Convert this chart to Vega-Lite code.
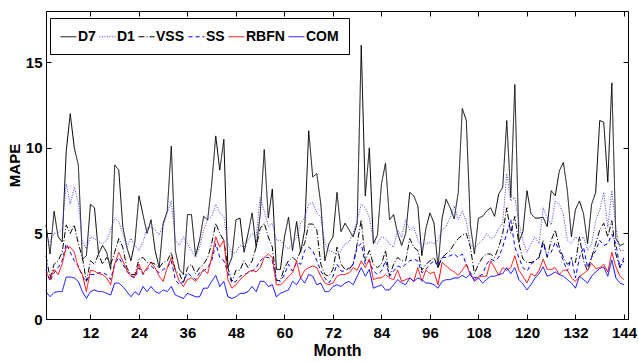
{
"$schema":"https://vega.github.io/schema/vega-lite/v6.json",
"width":582,"height":308,"autosize":"none",
"padding":{"left":46,"top":11,"right":10,"bottom":43},
"background":"white",
"config":{"view":{"stroke":"black","strokeWidth":1},"font":"Liberation Sans"},
"datasets":{"d":[
{"m":1,"s":"D7","v":5.5},{"m":2,"s":"D7","v":3.8},{"m":3,"s":"D7","v":6.3},{"m":4,"s":"D7","v":4.8},{"m":5,"s":"D7","v":4.5},{"m":6,"s":"D7","v":9.8},{"m":7,"s":"D7","v":12.0},{"m":8,"s":"D7","v":10.0},{"m":9,"s":"D7","v":9.0},{"m":10,"s":"D7","v":3.5},{"m":11,"s":"D7","v":3.7},{"m":12,"s":"D7","v":6.7},{"m":13,"s":"D7","v":6.5},{"m":14,"s":"D7","v":3.8},{"m":15,"s":"D7","v":4.3},{"m":16,"s":"D7","v":3.9},{"m":17,"s":"D7","v":2.9},{"m":18,"s":"D7","v":9.0},{"m":19,"s":"D7","v":8.7},{"m":20,"s":"D7","v":5.4},{"m":21,"s":"D7","v":4.2},{"m":22,"s":"D7","v":3.4},{"m":23,"s":"D7","v":4.5},{"m":24,"s":"D7","v":7.2},{"m":25,"s":"D7","v":6.1},{"m":26,"s":"D7","v":5.0},{"m":27,"s":"D7","v":5.8},{"m":28,"s":"D7","v":4.0},{"m":29,"s":"D7","v":3.0},{"m":30,"s":"D7","v":5.6},
{"m":31,"s":"D7","v":6.3},{"m":32,"s":"D7","v":10.1},{"m":33,"s":"D7","v":4.0},{"m":34,"s":"D7","v":2.9},{"m":35,"s":"D7","v":2.6},{"m":36,"s":"D7","v":6.1},{"m":37,"s":"D7","v":6.1},{"m":38,"s":"D7","v":3.7},{"m":39,"s":"D7","v":4.6},{"m":40,"s":"D7","v":6.0},{"m":41,"s":"D7","v":5.8},{"m":42,"s":"D7","v":7.9},{"m":43,"s":"D7","v":10.7},{"m":44,"s":"D7","v":8.7},{"m":45,"s":"D7","v":10.5},{"m":46,"s":"D7","v":3.0},{"m":47,"s":"D7","v":3.6},{"m":48,"s":"D7","v":5.8},{"m":49,"s":"D7","v":5.9},{"m":50,"s":"D7","v":3.9},{"m":51,"s":"D7","v":5.0},{"m":52,"s":"D7","v":6.2},{"m":53,"s":"D7","v":4.2},{"m":54,"s":"D7","v":6.1},{"m":55,"s":"D7","v":9.9},{"m":56,"s":"D7","v":5.9},{"m":57,"s":"D7","v":7.6},{"m":58,"s":"D7","v":2.9},{"m":59,"s":"D7","v":2.9},{"m":60,"s":"D7","v":4.8},
{"m":61,"s":"D7","v":5.95},{"m":62,"s":"D7","v":4.0},{"m":63,"s":"D7","v":5.7},{"m":64,"s":"D7","v":3.9},{"m":65,"s":"D7","v":5.2},{"m":66,"s":"D7","v":11.0},{"m":67,"s":"D7","v":8.3},{"m":68,"s":"D7","v":8.5},{"m":69,"s":"D7","v":6.7},{"m":70,"s":"D7","v":3.4},{"m":71,"s":"D7","v":4.4},{"m":72,"s":"D7","v":4.8},{"m":73,"s":"D7","v":7.4},{"m":74,"s":"D7","v":5.1},{"m":75,"s":"D7","v":5.6},{"m":76,"s":"D7","v":5.2},{"m":77,"s":"D7","v":4.8},{"m":78,"s":"D7","v":5.6},{"m":79,"s":"D7","v":16.0},{"m":80,"s":"D7","v":7.2},{"m":81,"s":"D7","v":10.0},{"m":82,"s":"D7","v":4.4},{"m":83,"s":"D7","v":4.9},{"m":84,"s":"D7","v":7.9},{"m":85,"s":"D7","v":9.1},{"m":86,"s":"D7","v":5.8},{"m":87,"s":"D7","v":6.1},{"m":88,"s":"D7","v":5.0},{"m":89,"s":"D7","v":4.3},{"m":90,"s":"D7","v":5.0},
{"m":91,"s":"D7","v":7.4},{"m":92,"s":"D7","v":7.2},{"m":93,"s":"D7","v":6.6},{"m":94,"s":"D7","v":3.7},{"m":95,"s":"D7","v":5.3},{"m":96,"s":"D7","v":6.2},{"m":97,"s":"D7","v":5.6},{"m":98,"s":"D7","v":3.0},{"m":99,"s":"D7","v":5.9},{"m":100,"s":"D7","v":7.0},{"m":101,"s":"D7","v":6.5},{"m":102,"s":"D7","v":5.85},{"m":103,"s":"D7","v":7.4},{"m":104,"s":"D7","v":12.3},{"m":105,"s":"D7","v":11.6},{"m":106,"s":"D7","v":5.5},{"m":107,"s":"D7","v":3.8},{"m":108,"s":"D7","v":5.9},{"m":109,"s":"D7","v":6.0},{"m":110,"s":"D7","v":6.3},{"m":111,"s":"D7","v":6.5},{"m":112,"s":"D7","v":6.0},{"m":113,"s":"D7","v":7.3},{"m":114,"s":"D7","v":7.7},{"m":115,"s":"D7","v":11.6},{"m":116,"s":"D7","v":7.1},{"m":117,"s":"D7","v":13.7},{"m":118,"s":"D7","v":4.5},{"m":119,"s":"D7","v":5.1},{"m":120,"s":"D7","v":7.5},
{"m":121,"s":"D7","v":6.15},{"m":122,"s":"D7","v":5.9},{"m":123,"s":"D7","v":5.9},{"m":124,"s":"D7","v":5.95},{"m":125,"s":"D7","v":5.4},{"m":126,"s":"D7","v":7.5},{"m":127,"s":"D7","v":7.2},{"m":128,"s":"D7","v":8.65},{"m":129,"s":"D7","v":9.15},{"m":130,"s":"D7","v":7.5},{"m":131,"s":"D7","v":4.8},{"m":132,"s":"D7","v":6.4},{"m":133,"s":"D7","v":6.9},{"m":134,"s":"D7","v":6.15},{"m":135,"s":"D7","v":4.4},{"m":136,"s":"D7","v":6.7},{"m":137,"s":"D7","v":7.4},{"m":138,"s":"D7","v":11.6},{"m":139,"s":"D7","v":11.5},{"m":140,"s":"D7","v":8.0},{"m":141,"s":"D7","v":13.8},{"m":142,"s":"D7","v":4.7},{"m":143,"s":"D7","v":4.3},{"m":144,"s":"D7","v":4.4},
{"m":1,"s":"D1","v":4.7},{"m":2,"s":"D1","v":4.5},{"m":3,"s":"D1","v":5.0},{"m":4,"s":"D1","v":5.0},{"m":5,"s":"D1","v":5.3},{"m":6,"s":"D1","v":7.9},{"m":7,"s":"D1","v":6.7},{"m":8,"s":"D1","v":7.7},{"m":9,"s":"D1","v":6.8},{"m":10,"s":"D1","v":4.5},{"m":11,"s":"D1","v":4.1},{"m":12,"s":"D1","v":4.8},{"m":13,"s":"D1","v":4.7},{"m":14,"s":"D1","v":4.5},{"m":15,"s":"D1","v":4.4},{"m":16,"s":"D1","v":4.6},{"m":17,"s":"D1","v":5.2},{"m":18,"s":"D1","v":5.9},{"m":19,"s":"D1","v":5.7},{"m":20,"s":"D1","v":5.0},{"m":21,"s":"D1","v":4.2},{"m":22,"s":"D1","v":4.7},{"m":23,"s":"D1","v":4.3},{"m":24,"s":"D1","v":4.0},{"m":25,"s":"D1","v":4.5},{"m":26,"s":"D1","v":5.3},{"m":27,"s":"D1","v":5.4},{"m":28,"s":"D1","v":5.2},{"m":29,"s":"D1","v":4.9},{"m":30,"s":"D1","v":5.5},
{"m":31,"s":"D1","v":6.2},{"m":32,"s":"D1","v":6.9},{"m":33,"s":"D1","v":4.6},{"m":34,"s":"D1","v":4.3},{"m":35,"s":"D1","v":4.8},{"m":36,"s":"D1","v":4.4},{"m":37,"s":"D1","v":4.0},{"m":38,"s":"D1","v":3.6},{"m":39,"s":"D1","v":4.2},{"m":40,"s":"D1","v":5.2},{"m":41,"s":"D1","v":5.8},{"m":42,"s":"D1","v":6.0},{"m":43,"s":"D1","v":6.7},{"m":44,"s":"D1","v":6.2},{"m":45,"s":"D1","v":6.0},{"m":46,"s":"D1","v":4.4},{"m":47,"s":"D1","v":3.8},{"m":48,"s":"D1","v":3.9},{"m":49,"s":"D1","v":4.3},{"m":50,"s":"D1","v":4.2},{"m":51,"s":"D1","v":4.6},{"m":52,"s":"D1","v":5.0},{"m":53,"s":"D1","v":4.8},{"m":54,"s":"D1","v":7.1},{"m":55,"s":"D1","v":6.3},{"m":56,"s":"D1","v":5.4},{"m":57,"s":"D1","v":5.6},{"m":58,"s":"D1","v":4.6},{"m":59,"s":"D1","v":4.6},{"m":60,"s":"D1","v":4.3},
{"m":61,"s":"D1","v":4.1},{"m":62,"s":"D1","v":4.4},{"m":63,"s":"D1","v":4.8},{"m":64,"s":"D1","v":5.6},{"m":65,"s":"D1","v":5.95},{"m":66,"s":"D1","v":6.7},{"m":67,"s":"D1","v":6.8},{"m":68,"s":"D1","v":6.2},{"m":69,"s":"D1","v":5.95},{"m":70,"s":"D1","v":4.4},{"m":71,"s":"D1","v":4.0},{"m":72,"s":"D1","v":3.9},{"m":73,"s":"D1","v":3.8},{"m":74,"s":"D1","v":4.0},{"m":75,"s":"D1","v":4.4},{"m":76,"s":"D1","v":4.5},{"m":77,"s":"D1","v":5.0},{"m":78,"s":"D1","v":5.8},{"m":79,"s":"D1","v":6.7},{"m":80,"s":"D1","v":6.5},{"m":81,"s":"D1","v":5.95},{"m":82,"s":"D1","v":4.6},{"m":83,"s":"D1","v":4.4},{"m":84,"s":"D1","v":4.8},{"m":85,"s":"D1","v":4.7},{"m":86,"s":"D1","v":4.4},{"m":87,"s":"D1","v":4.2},{"m":88,"s":"D1","v":5.2},{"m":89,"s":"D1","v":4.8},{"m":90,"s":"D1","v":5.8},
{"m":91,"s":"D1","v":5.2},{"m":92,"s":"D1","v":5.4},{"m":93,"s":"D1","v":4.6},{"m":94,"s":"D1","v":4.2},{"m":95,"s":"D1","v":4.4},{"m":96,"s":"D1","v":4.5},{"m":97,"s":"D1","v":4.4},{"m":98,"s":"D1","v":4.6},{"m":99,"s":"D1","v":5.2},{"m":100,"s":"D1","v":5.4},{"m":101,"s":"D1","v":5.95},{"m":102,"s":"D1","v":6.6},{"m":103,"s":"D1","v":5.8},{"m":104,"s":"D1","v":6.3},{"m":105,"s":"D1","v":5.7},{"m":106,"s":"D1","v":4.4},{"m":107,"s":"D1","v":4.1},{"m":108,"s":"D1","v":4.4},{"m":109,"s":"D1","v":4.6},{"m":110,"s":"D1","v":5.0},{"m":111,"s":"D1","v":4.7},{"m":112,"s":"D1","v":4.8},{"m":113,"s":"D1","v":5.3},{"m":114,"s":"D1","v":5.6},{"m":115,"s":"D1","v":8.5},{"m":116,"s":"D1","v":6.9},{"m":117,"s":"D1","v":7.1},{"m":118,"s":"D1","v":5.65},{"m":119,"s":"D1","v":4.6},{"m":120,"s":"D1","v":3.9},
{"m":121,"s":"D1","v":4.4},{"m":122,"s":"D1","v":4.8},{"m":123,"s":"D1","v":4.4},{"m":124,"s":"D1","v":6.5},{"m":125,"s":"D1","v":5.9},{"m":126,"s":"D1","v":5.5},{"m":127,"s":"D1","v":6.9},{"m":128,"s":"D1","v":6.7},{"m":129,"s":"D1","v":6.15},{"m":130,"s":"D1","v":4.6},{"m":131,"s":"D1","v":4.4},{"m":132,"s":"D1","v":4.8},{"m":133,"s":"D1","v":4.6},{"m":134,"s":"D1","v":4.8},{"m":135,"s":"D1","v":4.0},{"m":136,"s":"D1","v":4.4},{"m":137,"s":"D1","v":5.75},{"m":138,"s":"D1","v":6.35},{"m":139,"s":"D1","v":7.4},{"m":140,"s":"D1","v":5.35},{"m":141,"s":"D1","v":7.5},{"m":142,"s":"D1","v":5.35},{"m":143,"s":"D1","v":4.0},{"m":144,"s":"D1","v":4.0},
{"m":1,"s":"VSS","v":3.7},{"m":2,"s":"VSS","v":2.4},{"m":3,"s":"VSS","v":3.2},{"m":4,"s":"VSS","v":3.4},{"m":5,"s":"VSS","v":3.9},{"m":6,"s":"VSS","v":5.5},{"m":7,"s":"VSS","v":5.0},{"m":8,"s":"VSS","v":5.5},{"m":9,"s":"VSS","v":4.4},{"m":10,"s":"VSS","v":3.6},{"m":11,"s":"VSS","v":2.2},{"m":12,"s":"VSS","v":3.4},{"m":13,"s":"VSS","v":3.2},{"m":14,"s":"VSS","v":3.8},{"m":15,"s":"VSS","v":3.2},{"m":16,"s":"VSS","v":3.6},{"m":17,"s":"VSS","v":3.2},{"m":18,"s":"VSS","v":3.9},{"m":19,"s":"VSS","v":4.7},{"m":20,"s":"VSS","v":4.2},{"m":21,"s":"VSS","v":3.0},{"m":22,"s":"VSS","v":2.6},{"m":23,"s":"VSS","v":2.6},{"m":24,"s":"VSS","v":3.5},{"m":25,"s":"VSS","v":3.6},{"m":26,"s":"VSS","v":3.3},{"m":27,"s":"VSS","v":3.3},{"m":28,"s":"VSS","v":3.2},{"m":29,"s":"VSS","v":3.0},{"m":30,"s":"VSS","v":3.3},
{"m":31,"s":"VSS","v":3.4},{"m":32,"s":"VSS","v":3.9},{"m":33,"s":"VSS","v":2.85},{"m":34,"s":"VSS","v":2.65},{"m":35,"s":"VSS","v":2.1},{"m":36,"s":"VSS","v":3.0},{"m":37,"s":"VSS","v":3.2},{"m":38,"s":"VSS","v":2.65},{"m":39,"s":"VSS","v":3.0},{"m":40,"s":"VSS","v":3.2},{"m":41,"s":"VSS","v":3.6},{"m":42,"s":"VSS","v":4.4},{"m":43,"s":"VSS","v":5.6},{"m":44,"s":"VSS","v":5.0},{"m":45,"s":"VSS","v":4.6},{"m":46,"s":"VSS","v":3.0},{"m":47,"s":"VSS","v":2.2},{"m":48,"s":"VSS","v":2.85},{"m":49,"s":"VSS","v":2.85},{"m":50,"s":"VSS","v":3.4},{"m":51,"s":"VSS","v":3.0},{"m":52,"s":"VSS","v":3.4},{"m":53,"s":"VSS","v":4.2},{"m":54,"s":"VSS","v":5.3},{"m":55,"s":"VSS","v":5.6},{"m":56,"s":"VSS","v":4.8},{"m":57,"s":"VSS","v":4.2},{"m":58,"s":"VSS","v":2.25},{"m":59,"s":"VSS","v":2.25},{"m":60,"s":"VSS","v":3.0},
{"m":61,"s":"VSS","v":3.4},{"m":62,"s":"VSS","v":3.6},{"m":63,"s":"VSS","v":3.4},{"m":64,"s":"VSS","v":4.0},{"m":65,"s":"VSS","v":4.4},{"m":66,"s":"VSS","v":5.55},{"m":67,"s":"VSS","v":5.55},{"m":68,"s":"VSS","v":5.2},{"m":69,"s":"VSS","v":3.2},{"m":70,"s":"VSS","v":2.6},{"m":71,"s":"VSS","v":2.5},{"m":72,"s":"VSS","v":2.9},{"m":73,"s":"VSS","v":4.2},{"m":74,"s":"VSS","v":3.2},{"m":75,"s":"VSS","v":2.9},{"m":76,"s":"VSS","v":2.9},{"m":77,"s":"VSS","v":3.2},{"m":78,"s":"VSS","v":4.4},{"m":79,"s":"VSS","v":5.8},{"m":80,"s":"VSS","v":3.4},{"m":81,"s":"VSS","v":4.0},{"m":82,"s":"VSS","v":3.2},{"m":83,"s":"VSS","v":3.0},{"m":84,"s":"VSS","v":3.2},{"m":85,"s":"VSS","v":4.0},{"m":86,"s":"VSS","v":2.5},{"m":87,"s":"VSS","v":3.2},{"m":88,"s":"VSS","v":3.6},{"m":89,"s":"VSS","v":3.4},{"m":90,"s":"VSS","v":3.4},
{"m":91,"s":"VSS","v":4.7},{"m":92,"s":"VSS","v":4.2},{"m":93,"s":"VSS","v":4.0},{"m":94,"s":"VSS","v":2.85},{"m":95,"s":"VSS","v":3.2},{"m":96,"s":"VSS","v":3.4},{"m":97,"s":"VSS","v":3.6},{"m":98,"s":"VSS","v":3.0},{"m":99,"s":"VSS","v":3.6},{"m":100,"s":"VSS","v":3.8},{"m":101,"s":"VSS","v":4.0},{"m":102,"s":"VSS","v":4.4},{"m":103,"s":"VSS","v":4.7},{"m":104,"s":"VSS","v":4.9},{"m":105,"s":"VSS","v":5.0},{"m":106,"s":"VSS","v":4.2},{"m":107,"s":"VSS","v":2.65},{"m":108,"s":"VSS","v":3.2},{"m":109,"s":"VSS","v":3.6},{"m":110,"s":"VSS","v":3.8},{"m":111,"s":"VSS","v":3.8},{"m":112,"s":"VSS","v":3.6},{"m":113,"s":"VSS","v":4.2},{"m":114,"s":"VSS","v":5.0},{"m":115,"s":"VSS","v":6.5},{"m":116,"s":"VSS","v":5.0},{"m":117,"s":"VSS","v":6.0},{"m":118,"s":"VSS","v":4.4},{"m":119,"s":"VSS","v":3.5},{"m":120,"s":"VSS","v":3.3},
{"m":121,"s":"VSS","v":3.3},{"m":122,"s":"VSS","v":3.4},{"m":123,"s":"VSS","v":3.6},{"m":124,"s":"VSS","v":4.6},{"m":125,"s":"VSS","v":3.6},{"m":126,"s":"VSS","v":4.6},{"m":127,"s":"VSS","v":5.2},{"m":128,"s":"VSS","v":4.2},{"m":129,"s":"VSS","v":3.6},{"m":130,"s":"VSS","v":3.2},{"m":131,"s":"VSS","v":3.4},{"m":132,"s":"VSS","v":3.3},{"m":133,"s":"VSS","v":4.8},{"m":134,"s":"VSS","v":3.4},{"m":135,"s":"VSS","v":2.8},{"m":136,"s":"VSS","v":3.6},{"m":137,"s":"VSS","v":4.4},{"m":138,"s":"VSS","v":5.2},{"m":139,"s":"VSS","v":5.6},{"m":140,"s":"VSS","v":4.8},{"m":141,"s":"VSS","v":5.75},{"m":142,"s":"VSS","v":3.8},{"m":143,"s":"VSS","v":3.0},{"m":144,"s":"VSS","v":3.4},
{"m":1,"s":"SS","v":2.9},{"m":2,"s":"SS","v":2.2},{"m":3,"s":"SS","v":2.7},{"m":4,"s":"SS","v":3.0},{"m":5,"s":"SS","v":3.4},{"m":6,"s":"SS","v":4.4},{"m":7,"s":"SS","v":3.9},{"m":8,"s":"SS","v":3.4},{"m":9,"s":"SS","v":3.1},{"m":10,"s":"SS","v":2.5},{"m":11,"s":"SS","v":2.2},{"m":12,"s":"SS","v":2.6},{"m":13,"s":"SS","v":2.6},{"m":14,"s":"SS","v":2.7},{"m":15,"s":"SS","v":2.7},{"m":16,"s":"SS","v":2.6},{"m":17,"s":"SS","v":2.3},{"m":18,"s":"SS","v":3.2},{"m":19,"s":"SS","v":3.6},{"m":20,"s":"SS","v":3.2},{"m":21,"s":"SS","v":2.8},{"m":22,"s":"SS","v":2.5},{"m":23,"s":"SS","v":2.4},{"m":24,"s":"SS","v":3.0},{"m":25,"s":"SS","v":2.6},{"m":26,"s":"SS","v":2.9},{"m":27,"s":"SS","v":3.1},{"m":28,"s":"SS","v":2.9},{"m":29,"s":"SS","v":2.7},{"m":30,"s":"SS","v":2.9},
{"m":31,"s":"SS","v":3.0},{"m":32,"s":"SS","v":3.4},{"m":33,"s":"SS","v":2.3},{"m":34,"s":"SS","v":2.0},{"m":35,"s":"SS","v":2.2},{"m":36,"s":"SS","v":2.7},{"m":37,"s":"SS","v":2.5},{"m":38,"s":"SS","v":2.3},{"m":39,"s":"SS","v":2.7},{"m":40,"s":"SS","v":2.8},{"m":41,"s":"SS","v":3.0},{"m":42,"s":"SS","v":3.4},{"m":43,"s":"SS","v":4.4},{"m":44,"s":"SS","v":3.6},{"m":45,"s":"SS","v":3.4},{"m":46,"s":"SS","v":2.7},{"m":47,"s":"SS","v":2.1},{"m":48,"s":"SS","v":2.2},{"m":49,"s":"SS","v":2.5},{"m":50,"s":"SS","v":2.6},{"m":51,"s":"SS","v":2.7},{"m":52,"s":"SS","v":2.8},{"m":53,"s":"SS","v":3.0},{"m":54,"s":"SS","v":3.4},{"m":55,"s":"SS","v":3.6},{"m":56,"s":"SS","v":3.6},{"m":57,"s":"SS","v":3.4},{"m":58,"s":"SS","v":2.3},{"m":59,"s":"SS","v":2.2},{"m":60,"s":"SS","v":2.6},
{"m":61,"s":"SS","v":3.2},{"m":62,"s":"SS","v":2.8},{"m":63,"s":"SS","v":3.3},{"m":64,"s":"SS","v":3.2},{"m":65,"s":"SS","v":4.0},{"m":66,"s":"SS","v":4.2},{"m":67,"s":"SS","v":4.0},{"m":68,"s":"SS","v":3.4},{"m":69,"s":"SS","v":2.8},{"m":70,"s":"SS","v":2.4},{"m":71,"s":"SS","v":2.1},{"m":72,"s":"SS","v":2.5},{"m":73,"s":"SS","v":3.2},{"m":74,"s":"SS","v":2.8},{"m":75,"s":"SS","v":2.8},{"m":76,"s":"SS","v":3.0},{"m":77,"s":"SS","v":3.2},{"m":78,"s":"SS","v":4.2},{"m":79,"s":"SS","v":4.4},{"m":80,"s":"SS","v":3.2},{"m":81,"s":"SS","v":3.4},{"m":82,"s":"SS","v":2.8},{"m":83,"s":"SS","v":2.6},{"m":84,"s":"SS","v":2.8},{"m":85,"s":"SS","v":3.4},{"m":86,"s":"SS","v":2.5},{"m":87,"s":"SS","v":2.8},{"m":88,"s":"SS","v":3.1},{"m":89,"s":"SS","v":3.0},{"m":90,"s":"SS","v":3.2},
{"m":91,"s":"SS","v":3.4},{"m":92,"s":"SS","v":3.5},{"m":93,"s":"SS","v":3.4},{"m":94,"s":"SS","v":2.7},{"m":95,"s":"SS","v":2.9},{"m":96,"s":"SS","v":3.2},{"m":97,"s":"SS","v":3.4},{"m":98,"s":"SS","v":3.1},{"m":99,"s":"SS","v":3.6},{"m":100,"s":"SS","v":3.6},{"m":101,"s":"SS","v":3.7},{"m":102,"s":"SS","v":3.8},{"m":103,"s":"SS","v":3.6},{"m":104,"s":"SS","v":3.8},{"m":105,"s":"SS","v":3.2},{"m":106,"s":"SS","v":2.7},{"m":107,"s":"SS","v":2.4},{"m":108,"s":"SS","v":2.5},{"m":109,"s":"SS","v":2.6},{"m":110,"s":"SS","v":3.2},{"m":111,"s":"SS","v":3.5},{"m":112,"s":"SS","v":3.4},{"m":113,"s":"SS","v":3.6},{"m":114,"s":"SS","v":4.2},{"m":115,"s":"SS","v":5.0},{"m":116,"s":"SS","v":5.8},{"m":117,"s":"SS","v":4.2},{"m":118,"s":"SS","v":3.6},{"m":119,"s":"SS","v":3.0},{"m":120,"s":"SS","v":2.8},
{"m":121,"s":"SS","v":3.2},{"m":122,"s":"SS","v":3.4},{"m":123,"s":"SS","v":3.6},{"m":124,"s":"SS","v":4.4},{"m":125,"s":"SS","v":3.7},{"m":126,"s":"SS","v":3.9},{"m":127,"s":"SS","v":4.5},{"m":128,"s":"SS","v":4.0},{"m":129,"s":"SS","v":3.4},{"m":130,"s":"SS","v":2.8},{"m":131,"s":"SS","v":3.6},{"m":132,"s":"SS","v":2.4},{"m":133,"s":"SS","v":3.6},{"m":134,"s":"SS","v":4.2},{"m":135,"s":"SS","v":3.0},{"m":136,"s":"SS","v":3.6},{"m":137,"s":"SS","v":4.0},{"m":138,"s":"SS","v":4.6},{"m":139,"s":"SS","v":4.3},{"m":140,"s":"SS","v":4.4},{"m":141,"s":"SS","v":4.95},{"m":142,"s":"SS","v":4.4},{"m":143,"s":"SS","v":3.0},{"m":144,"s":"SS","v":3.6},
{"m":1,"s":"RBFN","v":2.75},{"m":2,"s":"RBFN","v":2.3},{"m":3,"s":"RBFN","v":2.9},{"m":4,"s":"RBFN","v":2.6},{"m":5,"s":"RBFN","v":3.2},{"m":6,"s":"RBFN","v":4.2},{"m":7,"s":"RBFN","v":4.2},{"m":8,"s":"RBFN","v":3.9},{"m":9,"s":"RBFN","v":3.0},{"m":10,"s":"RBFN","v":2.6},{"m":11,"s":"RBFN","v":1.6},{"m":12,"s":"RBFN","v":2.85},{"m":13,"s":"RBFN","v":2.8},{"m":14,"s":"RBFN","v":2.65},{"m":15,"s":"RBFN","v":2.6},{"m":16,"s":"RBFN","v":2.4},{"m":17,"s":"RBFN","v":2.0},{"m":18,"s":"RBFN","v":3.2},{"m":19,"s":"RBFN","v":3.9},{"m":20,"s":"RBFN","v":3.4},{"m":21,"s":"RBFN","v":2.85},{"m":22,"s":"RBFN","v":2.5},{"m":23,"s":"RBFN","v":2.5},{"m":24,"s":"RBFN","v":3.2},{"m":25,"s":"RBFN","v":2.65},{"m":26,"s":"RBFN","v":3.0},{"m":27,"s":"RBFN","v":3.3},{"m":28,"s":"RBFN","v":3.0},{"m":29,"s":"RBFN","v":2.5},{"m":30,"s":"RBFN","v":2.2},
{"m":31,"s":"RBFN","v":3.0},{"m":32,"s":"RBFN","v":3.6},{"m":33,"s":"RBFN","v":2.85},{"m":34,"s":"RBFN","v":2.2},{"m":35,"s":"RBFN","v":1.9},{"m":36,"s":"RBFN","v":2.3},{"m":37,"s":"RBFN","v":2.4},{"m":38,"s":"RBFN","v":2.2},{"m":39,"s":"RBFN","v":2.5},{"m":40,"s":"RBFN","v":2.9},{"m":41,"s":"RBFN","v":2.65},{"m":42,"s":"RBFN","v":3.6},{"m":43,"s":"RBFN","v":4.8},{"m":44,"s":"RBFN","v":4.2},{"m":45,"s":"RBFN","v":4.6},{"m":46,"s":"RBFN","v":2.3},{"m":47,"s":"RBFN","v":1.8},{"m":48,"s":"RBFN","v":2.0},{"m":49,"s":"RBFN","v":2.3},{"m":50,"s":"RBFN","v":2.5},{"m":51,"s":"RBFN","v":2.75},{"m":52,"s":"RBFN","v":2.85},{"m":53,"s":"RBFN","v":2.75},{"m":54,"s":"RBFN","v":3.0},{"m":55,"s":"RBFN","v":3.6},{"m":56,"s":"RBFN","v":3.8},{"m":57,"s":"RBFN","v":3.6},{"m":58,"s":"RBFN","v":2.0},{"m":59,"s":"RBFN","v":2.0},{"m":60,"s":"RBFN","v":2.2},
{"m":61,"s":"RBFN","v":2.5},{"m":62,"s":"RBFN","v":2.7},{"m":63,"s":"RBFN","v":3.4},{"m":64,"s":"RBFN","v":2.4},{"m":65,"s":"RBFN","v":2.85},{"m":66,"s":"RBFN","v":3.0},{"m":67,"s":"RBFN","v":3.1},{"m":68,"s":"RBFN","v":3.0},{"m":69,"s":"RBFN","v":2.5},{"m":70,"s":"RBFN","v":2.1},{"m":71,"s":"RBFN","v":2.0},{"m":72,"s":"RBFN","v":2.1},{"m":73,"s":"RBFN","v":2.5},{"m":74,"s":"RBFN","v":2.6},{"m":75,"s":"RBFN","v":2.6},{"m":76,"s":"RBFN","v":2.7},{"m":77,"s":"RBFN","v":3.0},{"m":78,"s":"RBFN","v":2.85},{"m":79,"s":"RBFN","v":3.4},{"m":80,"s":"RBFN","v":3.0},{"m":81,"s":"RBFN","v":3.5},{"m":82,"s":"RBFN","v":2.3},{"m":83,"s":"RBFN","v":2.4},{"m":84,"s":"RBFN","v":2.4},{"m":85,"s":"RBFN","v":2.6},{"m":86,"s":"RBFN","v":2.4},{"m":87,"s":"RBFN","v":2.3},{"m":88,"s":"RBFN","v":2.85},{"m":89,"s":"RBFN","v":2.2},{"m":90,"s":"RBFN","v":2.3},
{"m":91,"s":"RBFN","v":2.4},{"m":92,"s":"RBFN","v":2.2},{"m":93,"s":"RBFN","v":3.0},{"m":94,"s":"RBFN","v":2.2},{"m":95,"s":"RBFN","v":2.85},{"m":96,"s":"RBFN","v":2.65},{"m":97,"s":"RBFN","v":2.75},{"m":98,"s":"RBFN","v":2.0},{"m":99,"s":"RBFN","v":3.3},{"m":100,"s":"RBFN","v":3.1},{"m":101,"s":"RBFN","v":2.9},{"m":102,"s":"RBFN","v":2.75},{"m":103,"s":"RBFN","v":2.55},{"m":104,"s":"RBFN","v":2.85},{"m":105,"s":"RBFN","v":3.2},{"m":106,"s":"RBFN","v":2.55},{"m":107,"s":"RBFN","v":2.3},{"m":108,"s":"RBFN","v":2.45},{"m":109,"s":"RBFN","v":2.5},{"m":110,"s":"RBFN","v":2.5},{"m":111,"s":"RBFN","v":3.4},{"m":112,"s":"RBFN","v":3.0},{"m":113,"s":"RBFN","v":2.55},{"m":114,"s":"RBFN","v":3.0},{"m":115,"s":"RBFN","v":2.85},{"m":116,"s":"RBFN","v":3.0},{"m":117,"s":"RBFN","v":3.7},{"m":118,"s":"RBFN","v":2.85},{"m":119,"s":"RBFN","v":2.5},{"m":120,"s":"RBFN","v":2.1},
{"m":121,"s":"RBFN","v":2.65},{"m":122,"s":"RBFN","v":2.5},{"m":123,"s":"RBFN","v":2.85},{"m":124,"s":"RBFN","v":3.5},{"m":125,"s":"RBFN","v":2.9},{"m":126,"s":"RBFN","v":2.9},{"m":127,"s":"RBFN","v":3.0},{"m":128,"s":"RBFN","v":2.6},{"m":129,"s":"RBFN","v":2.85},{"m":130,"s":"RBFN","v":2.85},{"m":131,"s":"RBFN","v":2.4},{"m":132,"s":"RBFN","v":2.2},{"m":133,"s":"RBFN","v":2.5},{"m":134,"s":"RBFN","v":2.65},{"m":135,"s":"RBFN","v":2.85},{"m":136,"s":"RBFN","v":3.25},{"m":137,"s":"RBFN","v":2.95},{"m":138,"s":"RBFN","v":3.0},{"m":139,"s":"RBFN","v":3.2},{"m":140,"s":"RBFN","v":2.75},{"m":141,"s":"RBFN","v":3.9},{"m":142,"s":"RBFN","v":3.05},{"m":143,"s":"RBFN","v":2.5},{"m":144,"s":"RBFN","v":2.3},
{"m":1,"s":"COM","v":1.6},{"m":2,"s":"COM","v":1.3},{"m":3,"s":"COM","v":1.55},{"m":4,"s":"COM","v":1.6},{"m":5,"s":"COM","v":1.6},{"m":6,"s":"COM","v":2.45},{"m":7,"s":"COM","v":2.45},{"m":8,"s":"COM","v":2.4},{"m":9,"s":"COM","v":2.2},{"m":10,"s":"COM","v":1.6},{"m":11,"s":"COM","v":1.2},{"m":12,"s":"COM","v":1.6},{"m":13,"s":"COM","v":1.7},{"m":14,"s":"COM","v":1.6},{"m":15,"s":"COM","v":1.6},{"m":16,"s":"COM","v":1.5},{"m":17,"s":"COM","v":1.4},{"m":18,"s":"COM","v":2.1},{"m":19,"s":"COM","v":2.1},{"m":20,"s":"COM","v":1.9},{"m":21,"s":"COM","v":1.6},{"m":22,"s":"COM","v":1.3},{"m":23,"s":"COM","v":1.6},{"m":24,"s":"COM","v":1.4},{"m":25,"s":"COM","v":1.9},{"m":26,"s":"COM","v":1.6},{"m":27,"s":"COM","v":1.9},{"m":28,"s":"COM","v":1.6},{"m":29,"s":"COM","v":1.5},{"m":30,"s":"COM","v":1.7},
{"m":31,"s":"COM","v":1.6},{"m":32,"s":"COM","v":1.9},{"m":33,"s":"COM","v":1.4},{"m":34,"s":"COM","v":1.3},{"m":35,"s":"COM","v":1.2},{"m":36,"s":"COM","v":1.5},{"m":37,"s":"COM","v":1.4},{"m":38,"s":"COM","v":1.3},{"m":39,"s":"COM","v":1.3},{"m":40,"s":"COM","v":1.8},{"m":41,"s":"COM","v":1.8},{"m":42,"s":"COM","v":2.2},{"m":43,"s":"COM","v":2.55},{"m":44,"s":"COM","v":1.9},{"m":45,"s":"COM","v":2.2},{"m":46,"s":"COM","v":1.3},{"m":47,"s":"COM","v":1.2},{"m":48,"s":"COM","v":1.3},{"m":49,"s":"COM","v":1.5},{"m":50,"s":"COM","v":1.5},{"m":51,"s":"COM","v":1.6},{"m":52,"s":"COM","v":1.9},{"m":53,"s":"COM","v":1.6},{"m":54,"s":"COM","v":2.2},{"m":55,"s":"COM","v":2.2},{"m":56,"s":"COM","v":1.9},{"m":57,"s":"COM","v":2.0},{"m":58,"s":"COM","v":1.3},{"m":59,"s":"COM","v":1.5},{"m":60,"s":"COM","v":1.6},
{"m":61,"s":"COM","v":1.7},{"m":62,"s":"COM","v":2.2},{"m":63,"s":"COM","v":2.0},{"m":64,"s":"COM","v":2.4},{"m":65,"s":"COM","v":2.1},{"m":66,"s":"COM","v":2.6},{"m":67,"s":"COM","v":2.5},{"m":68,"s":"COM","v":2.0},{"m":69,"s":"COM","v":2.1},{"m":70,"s":"COM","v":1.6},{"m":71,"s":"COM","v":1.6},{"m":72,"s":"COM","v":1.9},{"m":73,"s":"COM","v":2.0},{"m":74,"s":"COM","v":1.9},{"m":75,"s":"COM","v":2.1},{"m":76,"s":"COM","v":2.2},{"m":77,"s":"COM","v":2.0},{"m":78,"s":"COM","v":2.5},{"m":79,"s":"COM","v":3.0},{"m":80,"s":"COM","v":2.5},{"m":81,"s":"COM","v":2.9},{"m":82,"s":"COM","v":1.8},{"m":83,"s":"COM","v":1.9},{"m":84,"s":"COM","v":2.0},{"m":85,"s":"COM","v":1.7},{"m":86,"s":"COM","v":1.7},{"m":87,"s":"COM","v":2.0},{"m":88,"s":"COM","v":2.3},{"m":89,"s":"COM","v":2.1},{"m":90,"s":"COM","v":2.0},
{"m":91,"s":"COM","v":2.4},{"m":92,"s":"COM","v":2.2},{"m":93,"s":"COM","v":2.4},{"m":94,"s":"COM","v":2.3},{"m":95,"s":"COM","v":2.1},{"m":96,"s":"COM","v":2.1},{"m":97,"s":"COM","v":2.0},{"m":98,"s":"COM","v":1.8},{"m":99,"s":"COM","v":2.2},{"m":100,"s":"COM","v":2.3},{"m":101,"s":"COM","v":2.3},{"m":102,"s":"COM","v":2.4},{"m":103,"s":"COM","v":2.4},{"m":104,"s":"COM","v":2.55},{"m":105,"s":"COM","v":2.4},{"m":106,"s":"COM","v":2.65},{"m":107,"s":"COM","v":2.2},{"m":108,"s":"COM","v":2.4},{"m":109,"s":"COM","v":2.1},{"m":110,"s":"COM","v":2.3},{"m":111,"s":"COM","v":2.5},{"m":112,"s":"COM","v":2.5},{"m":113,"s":"COM","v":2.6},{"m":114,"s":"COM","v":2.65},{"m":115,"s":"COM","v":3.0},{"m":116,"s":"COM","v":2.65},{"m":117,"s":"COM","v":3.0},{"m":118,"s":"COM","v":2.3},{"m":119,"s":"COM","v":2.05},{"m":120,"s":"COM","v":1.7},
{"m":121,"s":"COM","v":2.0},{"m":122,"s":"COM","v":2.4},{"m":123,"s":"COM","v":2.65},{"m":124,"s":"COM","v":3.05},{"m":125,"s":"COM","v":2.5},{"m":126,"s":"COM","v":2.6},{"m":127,"s":"COM","v":2.75},{"m":128,"s":"COM","v":2.6},{"m":129,"s":"COM","v":2.5},{"m":130,"s":"COM","v":2.3},{"m":131,"s":"COM","v":2.1},{"m":132,"s":"COM","v":1.8},{"m":133,"s":"COM","v":2.5},{"m":134,"s":"COM","v":2.3},{"m":135,"s":"COM","v":2.1},{"m":136,"s":"COM","v":2.5},{"m":137,"s":"COM","v":2.75},{"m":138,"s":"COM","v":2.95},{"m":139,"s":"COM","v":3.05},{"m":140,"s":"COM","v":2.5},{"m":141,"s":"COM","v":3.45},{"m":142,"s":"COM","v":2.4},{"m":143,"s":"COM","v":2.1},{"m":144,"s":"COM","v":2.0}
]},
"data":{"name":"d"},
"layer":[
{"mark":{"type":"line","strokeWidth":1},
 "encoding":{
  "x":{"field":"m","type":"quantitative","scale":{"domain":[1,145],"nice":false,"zero":false},
   "axis":{"orient":"bottom","values":[12,24,36,48,60,72,84,96,108,120,132,144],"title":"Month","grid":false,"tickSize":-5,"labelPadding":11,"domainColor":"black","tickColor":"black","labelColor":"black","titleColor":"black","labelFontSize":15,"labelFontWeight":"bold","titleFontSize":16,"titleFontWeight":"bold","titlePadding":2,"labelFont":"Liberation Sans","titleFont":"Liberation Sans"}},
  "y":{"field":"v","type":"quantitative","scale":{"domain":[0,18],"nice":false},
   "axis":{"orient":"left","values":[0,5,10,15],"title":"MAPE","grid":false,"tickSize":-5,"labelPadding":9,"domainColor":"black","tickColor":"black","labelColor":"black","titleColor":"black","labelFontSize":15,"labelFontWeight":"bold","titleFontSize":15,"titleFontWeight":"bold","titlePadding":3,"labelFont":"Liberation Sans","titleFont":"Liberation Sans"}},
  "color":{"field":"s","type":"nominal","scale":{"domain":["D7","D1","VSS","SS","RBFN","COM"],"range":["#000000","#3a3aff","#000000","#0000ff","#ff0000","#0000ff"]},
   "legend":{"title":null,"orient":"none","legendX":4,"legendY":7,"direction":"horizontal","columns":6,"strokeColor":"black","fillColor":"white","padding":10,"symbolType":"stroke","symbolSize":256,"symbolStrokeWidth":1,"labelFontSize":14,"labelFontWeight":"bold","labelFont":"Liberation Sans","labelColor":"black","columnPadding":1,"labelOffset":1}},
  "strokeDash":{"field":"s","type":"nominal","scale":{"domain":["D7","D1","VSS","SS","RBFN","COM"],"range":[[1,0],[1,1.5],[6,2,1,2],[4,3],[1,0],[1,0]]},
   "legend":{"title":null,"orient":"none","legendX":4,"legendY":7,"direction":"horizontal","columns":6,"strokeColor":"black","fillColor":"white","padding":10,"symbolType":"stroke","symbolSize":256,"symbolStrokeWidth":1,"labelFontSize":14,"labelFontWeight":"bold","labelFont":"Liberation Sans","labelColor":"black","columnPadding":1,"labelOffset":1}}
 }},
{"mark":{"type":"point","opacity":0},
 "encoding":{
  "x":{"field":"m","type":"quantitative","scale":{"domain":[1,145],"nice":false,"zero":false},
   "axis":{"orient":"top","values":[12,24,36,48,60,72,84,96,108,120,132,144],"title":null,"labels":false,"grid":false,"tickSize":-5,"domain":false,"tickColor":"black"}},
  "y":{"field":"v","type":"quantitative","scale":{"domain":[0,18],"nice":false},
   "axis":{"orient":"right","values":[0,5,10,15],"title":null,"labels":false,"grid":false,"tickSize":-5,"domain":false,"tickColor":"black"}}
 }}
],
"resolve":{"axis":{"x":"independent","y":"independent"}}
}
